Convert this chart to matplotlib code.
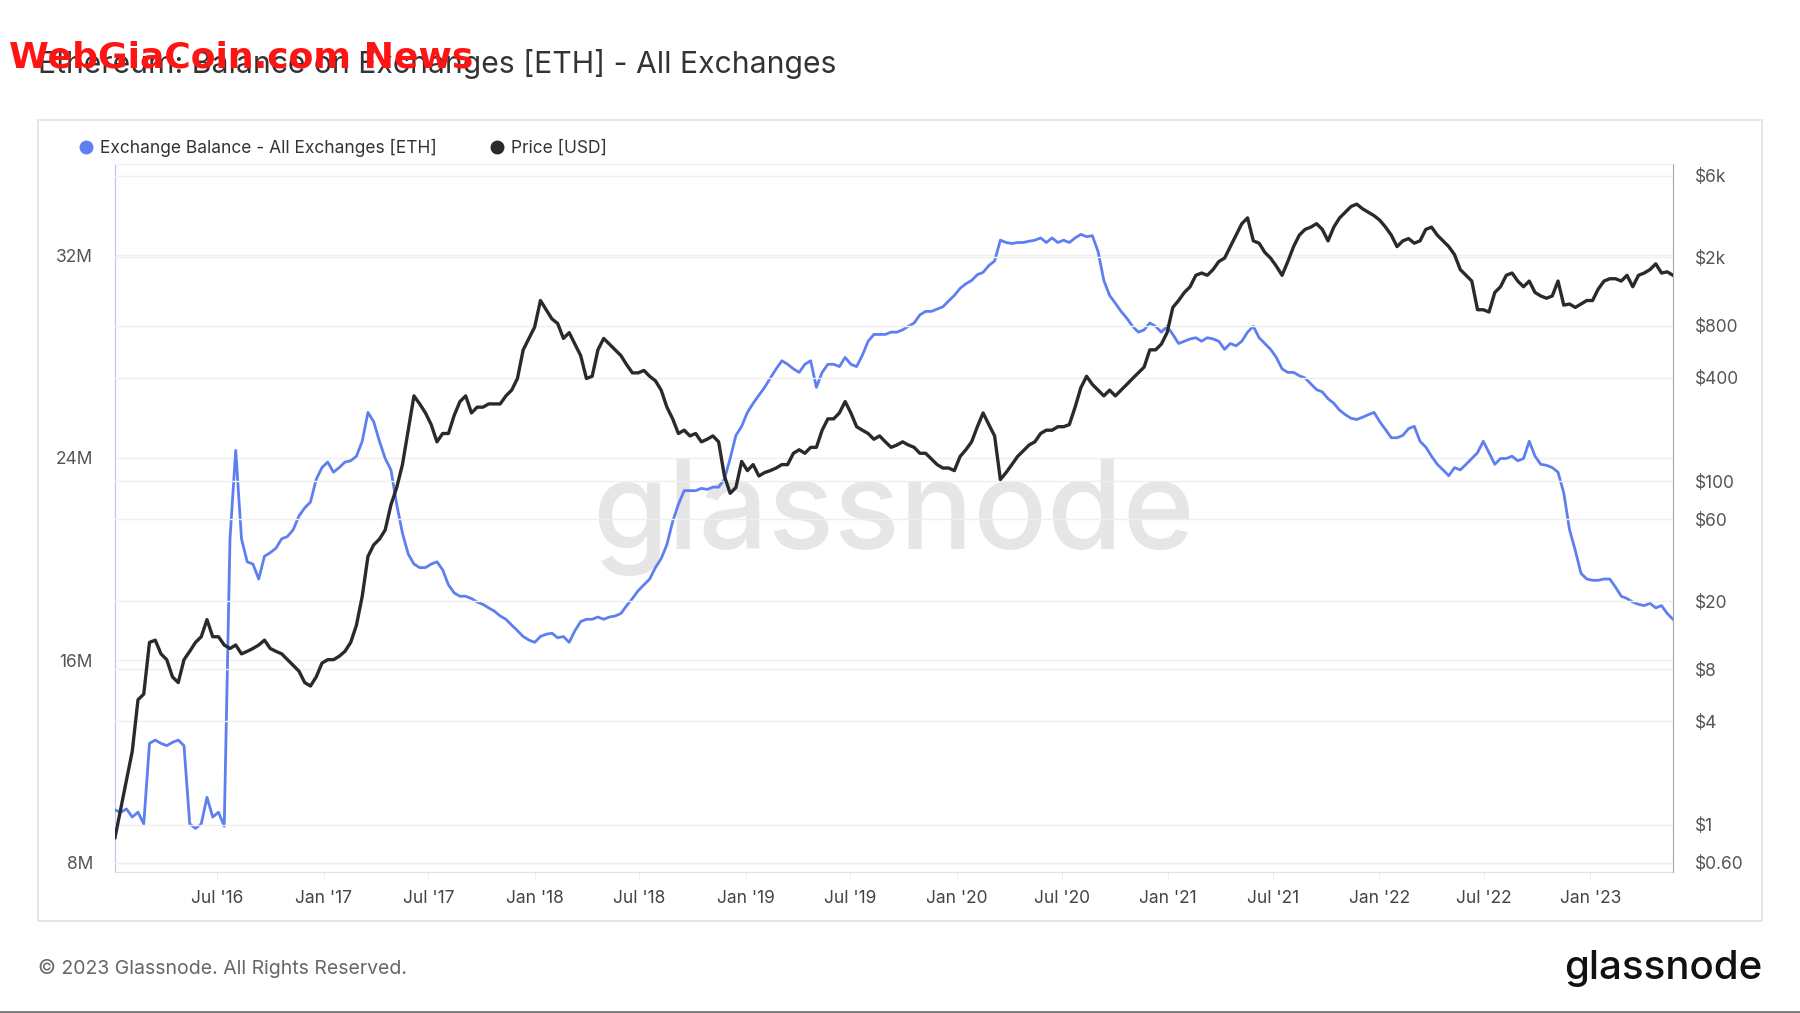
import matplotlib
matplotlib.use("Agg")
import matplotlib.pyplot as plt
import matplotlib.dates as mdates
from matplotlib.lines import Line2D
from matplotlib.patches import Rectangle
import pandas as pd

plt.rcParams['font.family'] = ['Inter', 'DejaVu Sans']

# ~10-day samples, Jan 2016 -> May 2023
START, END = '2016-01-06', '2023-05-24'

BALANCE_M = [
    10.09, 10.0, 10.13, 9.81, 10.0, 9.54, 12.72, 12.85, 12.72, 12.63, 12.76, 12.85, 12.63, 9.54, 9.36, 9.54,
    10.59, 9.81, 10.0, 9.45, 20.8, 24.29, 20.8, 19.89, 19.8, 19.21, 20.11, 20.25, 20.43, 20.8, 20.89, 21.16,
    21.7, 22.02, 22.25, 23.15, 23.61, 23.83, 23.43, 23.61, 23.83, 23.88, 24.06, 24.65, 25.79, 25.42, 24.65, 23.97,
    23.52, 22.16, 21.02, 20.2, 19.8, 19.66, 19.66, 19.8, 19.89, 19.57, 18.98, 18.66, 18.53, 18.53, 18.44, 18.3,
    18.21, 18.07, 17.94, 17.75, 17.62, 17.39, 17.17, 16.94, 16.8, 16.71, 16.94, 17.03, 17.07, 16.89, 16.94, 16.71,
    17.17, 17.53, 17.62, 17.62, 17.71, 17.62, 17.71, 17.75, 17.85, 18.16, 18.44, 18.75, 18.98, 19.21, 19.66, 20.02,
    20.57, 21.48, 22.16, 22.7, 22.7, 22.7, 22.79, 22.75, 22.84, 22.84, 23.15, 23.97, 24.88, 25.24, 25.79, 26.15,
    26.47, 26.78, 27.15, 27.51, 27.83, 27.69, 27.51, 27.37, 27.69, 27.83, 26.78, 27.37, 27.69, 27.69, 27.6, 27.96,
    27.69, 27.6, 28.05, 28.6, 28.87, 28.87, 28.87, 28.96, 28.96, 29.05, 29.19, 29.32, 29.64, 29.78, 29.78, 29.87,
    29.96, 30.19, 30.41, 30.69, 30.87, 31.0, 31.23, 31.32, 31.59, 31.77, 32.59, 32.5, 32.46, 32.5, 32.5, 32.55,
    32.59, 32.68, 32.5, 32.68, 32.5, 32.59, 32.5, 32.68, 32.82, 32.73, 32.77, 32.14, 31.0, 30.41, 30.1, 29.78,
    29.51, 29.19, 28.96, 29.05, 29.32, 29.19, 28.96, 29.19, 28.87, 28.51, 28.6, 28.69, 28.74, 28.6, 28.74, 28.69,
    28.6, 28.28, 28.51, 28.42, 28.6, 28.96, 29.19, 28.74, 28.51, 28.28, 27.96, 27.51, 27.37, 27.37, 27.24, 27.15,
    26.92, 26.69, 26.6, 26.33, 26.15, 25.88, 25.7, 25.56, 25.51, 25.6, 25.7, 25.79, 25.42, 25.11, 24.79, 24.79,
    24.88, 25.15, 25.24, 24.65, 24.42, 24.06, 23.74, 23.52, 23.29, 23.61, 23.52, 23.74, 23.97, 24.2, 24.65, 24.2,
    23.74, 23.97, 23.97, 24.06, 23.88, 23.97, 24.65, 24.06, 23.74, 23.7, 23.61, 23.43, 22.61, 21.16, 20.34, 19.43,
    19.21, 19.16, 19.16, 19.21, 19.21, 18.89, 18.53, 18.44, 18.3, 18.21, 18.16, 18.25, 18.07, 18.16, 17.85, 17.62,
]

PRICE_USD = [
    0.84, 1.24, 1.82, 2.67, 5.33, 5.75, 11.5, 11.85, 9.86, 9.12, 7.24, 6.71, 9.12, 10.2, 11.5, 12.4,
    15.6, 12.4, 12.4, 11.1, 10.6, 11.1, 9.86, 10.2, 10.6, 11.1, 11.85, 10.6, 10.2, 9.86, 9.12, 8.45,
    7.82, 6.71, 6.41, 7.24, 8.71, 9.12, 9.12, 9.55, 10.2, 11.5, 14.5, 21.3, 36.4, 42.5, 45.9, 51.9,
    72.7, 91.6, 124.6, 197.6, 313, 281, 249, 213, 169, 189, 189, 241, 290, 313, 249, 269,
    269, 281, 281, 281, 313, 338, 395, 580, 676, 788, 1123, 993, 878, 826, 676, 730,
    626, 537, 395, 407, 580, 676, 626, 580, 537, 475, 426, 426, 440, 407, 383, 338,
    269, 230, 189, 197.6, 183, 189, 169, 175, 183, 169, 107, 84.8, 91.6, 130, 115, 124.6,
    107, 112, 115, 119, 124.6, 124.6, 145, 152, 145, 157, 157, 197.6, 230, 230, 249, 290,
    249, 207, 197.6, 189, 175, 183, 169, 157, 162, 169, 162, 157, 145, 145, 134.5, 124.6,
    119, 119, 115, 139, 152, 169, 207, 249, 213, 183, 102, 112, 124.6, 139, 150, 162,
    169, 189, 197.6, 197.6, 207, 207, 213, 269, 349, 407, 365, 338, 313, 338, 313, 338,
    365, 395, 426, 460, 580, 580, 626, 730, 1024, 1123, 1251, 1351, 1575, 1624, 1575, 1701,
    1894, 1983, 2313, 2698, 3146, 3400, 2498, 2423, 2142, 1983, 1781, 1575, 1894, 2313, 2698, 2913,
    3004, 3146, 2913, 2498, 3004, 3397, 3668, 3962, 4087, 3841, 3668, 3503, 3295, 3004, 2698, 2313,
    2498, 2576, 2423, 2498, 2913, 3004, 2698, 2498, 2313, 2077, 1701, 1575, 1458, 993, 993, 963,
    1251, 1351, 1575, 1624, 1458, 1351, 1458, 1251, 1194, 1158, 1194, 1458, 1056, 1072, 1024, 1072,
    1123, 1123, 1310, 1458, 1504, 1504, 1458, 1575, 1351, 1575, 1624, 1701, 1837, 1624, 1650, 1575,
]

LEFT_TICKS = [8, 16, 24, 32]
LEFT_LABELS = ['8M', '16M', '24M', '32M']
RIGHT_TICKS = [0.6, 1, 4, 8, 20, 60, 100, 400, 800, 2000, 6000]
RIGHT_LABELS = ['$0.60', '$1', '$4', '$8', '$20', '$60', '$100', '$400', '$800', '$2k', '$6k']

BLUE = '#5d7ff0'
BLACK = '#2a2a2a'
W, H = 1800, 1013

dates = pd.date_range(START, END, periods=len(BALANCE_M))

fig = plt.figure(figsize=(18, 10.13), dpi=100)
fig.patch.set_facecolor('white')

# outer frame
fig.add_artist(Rectangle((38 / W, 1 - 921 / H), (1762 - 38) / W, (921 - 120) / H,
                         transform=fig.transFigure, fill=False, ec='#e2e2e2', lw=1.2))

ax = fig.add_axes([115 / W, 1 - 872 / H, (1673 - 115) / W, (872 - 164) / H])
ax2 = ax.twinx()

ax.text(0.5, 0.5, 'glassnode', transform=ax.transAxes, ha='center', va='center',
        fontsize=88, color='#e6e6e6', fontweight='medium', zorder=0)

ax.plot(dates, BALANCE_M, color=BLUE, lw=2.0, zorder=3)
ax2.plot(dates, PRICE_USD, color=BLACK, lw=2.4, zorder=3)

ax.set_xlim(dates[0], dates[-1])
ax.set_ylim(7.64, 35.6)
ax.set_yticks(LEFT_TICKS)
ax.set_yticklabels(LEFT_LABELS)

ax2.set_yscale('log')
ax2.set_ylim(0.53, 7000)
ax2.set_yticks(RIGHT_TICKS)
ax2.set_yticklabels(RIGHT_LABELS)
ax2.minorticks_off()

ax.xaxis.set_major_locator(mdates.MonthLocator(bymonth=[1, 7]))
ax.xaxis.set_major_formatter(mdates.DateFormatter("%b '%y"))

for y in RIGHT_TICKS:
    ax2.axhline(y, color='#efefef', lw=1, zorder=0)
for y in LEFT_TICKS:
    ax.axhline(y, color='#efefef', lw=1, zorder=0)

ax.tick_params(axis='y', length=0, pad=16, labelsize=12.5, labelcolor='#555555')
ax2.tick_params(axis='y', length=0, pad=16, labelsize=12.5, labelcolor='#555555')
ax.tick_params(axis='x', length=6, color='#eeeeee', pad=7, labelsize=12.5, labelcolor='#444444')

ax.spines['left'].set_color('#b8c6f5')
ax.spines['top'].set_color('#eeeeee')
ax.spines['bottom'].set_color('#e2e2e2')
ax.spines['right'].set_visible(False)
ax2.spines['right'].set_color('#a8a8a8')
ax2.spines['left'].set_visible(False)
ax2.spines['top'].set_visible(False)
ax2.spines['bottom'].set_visible(False)

# legend
handles = [Line2D([], [], marker='o', ls='', color=BLUE, markersize=9),
           Line2D([], [], marker='o', ls='', color=BLACK, markersize=9)]
fig.legend(handles, ['Exchange Balance - All Exchanges [ETH]', 'Price [USD]'],
           loc='center left', bbox_to_anchor=(53 / W, 1 - 148 / H), ncol=2, frameon=False,
           handletextpad=-0.2, columnspacing=2.5, fontsize=12.5, labelcolor='#333333')

fig.text(38 / W, 1 - 64 / H, 'Ethereum: Balance on Exchanges [ETH] - All Exchanges',
         fontsize=21.7, color='#333333', va='center', ha='left')
fig.text(9 / W, 1 - 57 / H, 'WebGiaCoin.com News', fontsize=26, color='#ff1414',
         fontweight='bold', family=['Liberation Sans Narrow', 'DejaVu Sans'], va='center', ha='left')

fig.text(38 / W, 1 - 968 / H, '\u00a9 2023 Glassnode. All Rights Reserved.',
         fontsize=14, color='#666666', va='center', ha='left')
fig.text(1762 / W, 1 - 968 / H, 'glassnode', fontsize=29, color='#111111',
         va='center', ha='right', fontweight='medium')
fig.add_artist(Line2D([0, 1], [1.5 / H, 1.5 / H], transform=fig.transFigure, color='#777777', lw=2))

fig.savefig('out.png', dpi=100)
